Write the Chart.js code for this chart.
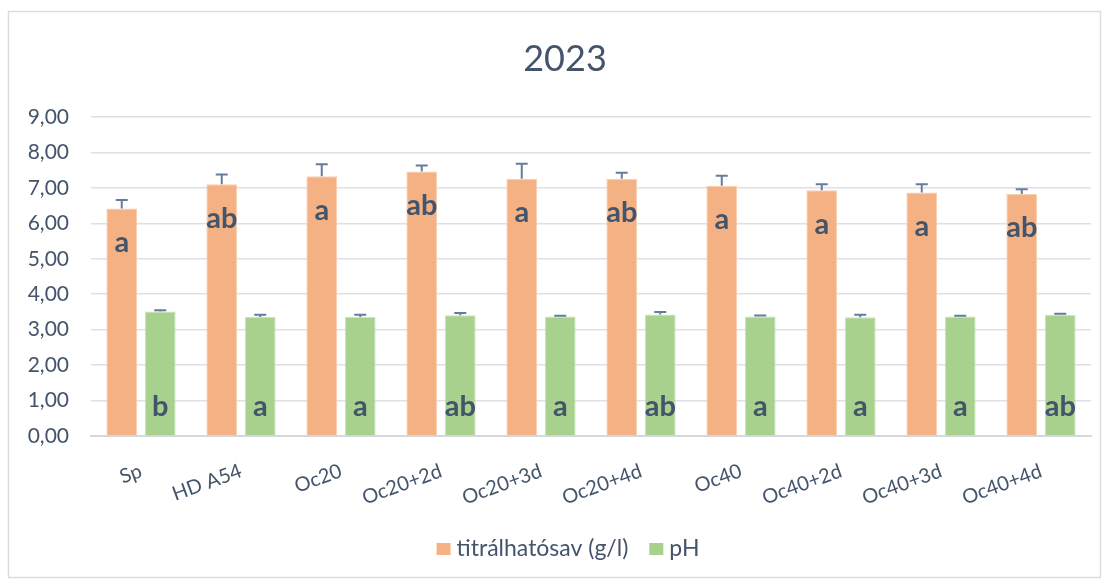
<!DOCTYPE html>
<html>
<head>
<meta charset="utf-8">
<script src="https://cdn.jsdelivr.net/npm/chart.js@4.4.1/dist/chart.umd.min.js"></script>
<style>
  html, body { margin: 0; padding: 0; background: #fff; }
  #wrap { width: 1107px; height: 581px; }
</style>
</head>
<body>
<div id="wrap"><canvas id="chart" width="1107" height="581"></canvas></div>
<script>
  // Titrálható sav és pH, 2023
  const chartTitle = "2023";
  const categories = ["Sp", "HD A54", "Oc20", "Oc20+2d", "Oc20+3d", "Oc20+4d", "Oc40", "Oc40+2d", "Oc40+3d", "Oc40+4d"];
  const savValues = [6.42, 7.10, 7.33, 7.46, 7.26, 7.26, 7.06, 6.93, 6.87, 6.83];
  const savErrors = [0.24, 0.28, 0.34, 0.17, 0.42, 0.17, 0.28, 0.17, 0.23, 0.13];
  const savLetters = ["a", "ab", "a", "ab", "a", "ab", "a", "a", "a", "ab"];
  const phValues = [3.51, 3.36, 3.36, 3.41, 3.37, 3.43, 3.37, 3.35, 3.37, 3.42];
  const phErrors = [0.04, 0.06, 0.06, 0.06, 0.02, 0.07, 0.03, 0.07, 0.02, 0.03];
  const phLetters = ["b", "a", "a", "ab", "a", "ab", "a", "a", "a", "ab"];
  const yTicks = [0, 1, 2, 3, 4, 5, 6, 7, 8, 9];

  const TEXT = "#44546a";
  Chart.defaults.font.family = "Lato, 'Open Sans', sans-serif";
  Chart.defaults.color = TEXT;

  // keret, cím és jelmagyarázat
  const frame = {
    id: "frame",
    beforeDraw(chart) {
      const ctx = chart.ctx;
      ctx.save();
      ctx.strokeStyle = "#d9dde3";
      ctx.lineWidth = 1.5;
      ctx.strokeRect(8.5, 11.5, 1092, 566);
      ctx.fillStyle = TEXT;
      ctx.font = "36px Lato, sans-serif";
      ctx.textAlign = "center";
      ctx.textBaseline = "middle";
      ctx.fillText(chartTitle, 565, 59);

      // jelmagyarázat középre igazítva
      ctx.font = "23px Lato, sans-serif";
      ctx.textAlign = "left";
      const items = chart.data.datasets.map((ds) => ({
        label: ds.label,
        color: ds.backgroundColor,
        w: 20 + ctx.measureText(ds.label).width,
      }));
      const gap = 21;
      const total = items.reduce((s, it) => s + it.w, 0) + gap * (items.length - 1);
      let x = 568 - total / 2;
      const cy = 549;
      items.forEach((it) => {
        ctx.fillStyle = it.color;
        ctx.fillRect(x, cy - 6, 14, 12);
        ctx.fillStyle = TEXT;
        ctx.fillText(it.label, x + 20, cy);
        x += it.w + gap;
      });
      ctx.restore();
    },
  };

  // csak felfelé mutató hibasávok
  const errorBars = {
    id: "errorBars",
    afterDatasetsDraw(chart) {
      const ctx = chart.ctx;
      const y = chart.scales.y;
      ctx.save();
      ctx.strokeStyle = "#657d9c";
      ctx.lineWidth = 2;
      chart.data.datasets.forEach((ds, i) => {
        const meta = chart.getDatasetMeta(i);
        meta.data.forEach((bar, j) => {
          const top = y.getPixelForValue(ds.data[j] + ds.errors[j]);
          ctx.beginPath();
          ctx.moveTo(bar.x, bar.y);
          ctx.lineTo(bar.x, top);
          ctx.moveTo(bar.x - 6, top);
          ctx.lineTo(bar.x + 6, top);
          ctx.stroke();
        });
      });
      ctx.restore();
    },
  };

  // szignifikancia betűk
  const letters = {
    id: "letters",
    afterDatasetsDraw(chart) {
      const ctx = chart.ctx;
      const base = chart.scales.y.getPixelForValue(0);
      ctx.save();
      ctx.fillStyle = TEXT;
      ctx.font = "bold 29px Lato, sans-serif";
      ctx.textAlign = "center";
      ctx.textBaseline = "middle";
      chart.getDatasetMeta(0).data.forEach((bar, j) => {
        ctx.fillText(savLetters[j], bar.x, bar.y + 34);
      });
      chart.getDatasetMeta(1).data.forEach((bar, j) => {
        ctx.fillText(phLetters[j], bar.x, base - 29);
      });
      ctx.restore();
    },
  };

  new Chart(document.getElementById("chart"), {
    type: "bar",
    data: {
      labels: categories,
      datasets: [
        {
          label: "titrálhatósav (g/l)",
          data: savValues,
          errors: savErrors,
          backgroundColor: "#f4b183",
          borderColor: "#f8cfb2",
          borderWidth: 1,
          categoryPercentage: 0.77,
          barPercentage: 0.8,
        },
        {
          label: "pH",
          data: phValues,
          errors: phErrors,
          backgroundColor: "#a9d18e",
          borderColor: "#cbe4bb",
          borderWidth: 1,
          categoryPercentage: 0.77,
          barPercentage: 0.8,
        },
      ],
    },
    options: {
      responsive: false,
      animation: false,
      layout: { padding: { left: 0, right: 16, top: 117, bottom: 0 } },
      plugins: {
        title: { display: false },
        legend: { display: false },
        tooltip: { enabled: false },
      },
      scales: {
        x: {
          afterFit(scale) { scale.height = 145; },
          grid: { display: false, drawTicks: false },
          border: { color: "#d3d8de", width: 2 },
          ticks: {
            minRotation: 20,
            maxRotation: 20,
            autoSkip: false,
            padding: 23,
            color: TEXT,
            font: { size: 20 },
          },
        },
        y: {
          min: 0,
          max: 9,
          afterFit(scale) { scale.width = 91; },
          afterBuildTicks(scale) { scale.ticks = yTicks.map((v) => ({ value: v })); },
          grid: { color: "#dde1e7", lineWidth: 1.5, drawTicks: false },
          border: { display: false },
          ticks: {
            padding: 22,
            color: TEXT,
            font: { size: 21 },
            callback: (v) => v.toFixed(2).replace(".", ","),
          },
        },
      },
    },
    plugins: [frame, errorBars, letters],
  });
</script>
</body>
</html>
